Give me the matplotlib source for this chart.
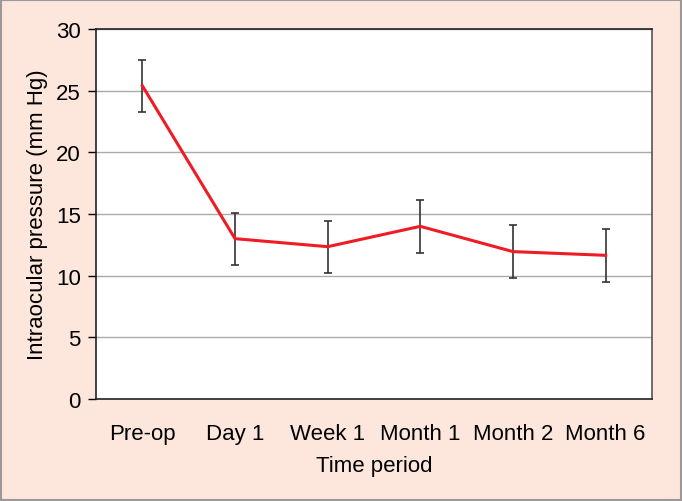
import matplotlib.pyplot as plt
from matplotlib.patches import Rectangle

plt.rcParams['font.family'] = ['Liberation Sans', 'DejaVu Sans']

# Dati
periods = ['Pre-op', 'Day 1', 'Week 1', 'Month 1', 'Month 2', 'Month 6']
iop_mean = [25.4, 13.0, 12.35, 14.0, 11.95, 11.65]
iop_sd = [2.1, 2.1, 2.1, 2.15, 2.15, 2.15]

BG = '#fde6dc'
FS = 16

fig = plt.figure(figsize=(6.82, 5.02), dpi=100, facecolor=BG)
ax = fig.add_axes([96 / 682, 102 / 502, 556 / 682, 370 / 502])
ax.set_facecolor('white')

x = list(range(len(periods)))
ax.errorbar(x, iop_mean, yerr=iop_sd, fmt='none', ecolor='#333333',
            elinewidth=1.2, capsize=3, capthick=1.2, zorder=3)
ax.plot(x, iop_mean, color='#ee1c24', linewidth=2.2, zorder=4)

ax.set_xlim(-0.5, len(periods) - 0.5)
ax.set_ylim(0, 30)
ax.set_yticks(range(0, 31, 5))
ax.set_xticks(x)
ax.set_xticklabels(periods)
ax.tick_params(axis='y', direction='out', length=6, width=1, labelsize=FS, pad=5)
ax.tick_params(axis='x', length=0, labelsize=FS, pad=17)
ax.yaxis.grid(True, color='#aaaaaa', linewidth=1)
ax.set_axisbelow(True)

for s in ['left', 'top', 'bottom']:
    ax.spines[s].set_color('#222222')
    ax.spines[s].set_linewidth(1.2)
ax.spines['right'].set_color('#555555')
ax.spines['right'].set_linewidth(1.2)

ax.set_xlabel('Time period', fontsize=FS, labelpad=8)
ax.set_ylabel('Intraocular pressure (mm Hg)', fontsize=FS, labelpad=6)

# bordo grigio della figura
fig.patches.append(Rectangle((0.001, 0.001), 0.998, 0.998, transform=fig.transFigure,
                             fill=False, edgecolor='#999999', linewidth=1.5))

fig.savefig('out.png', dpi=100, facecolor=BG)
